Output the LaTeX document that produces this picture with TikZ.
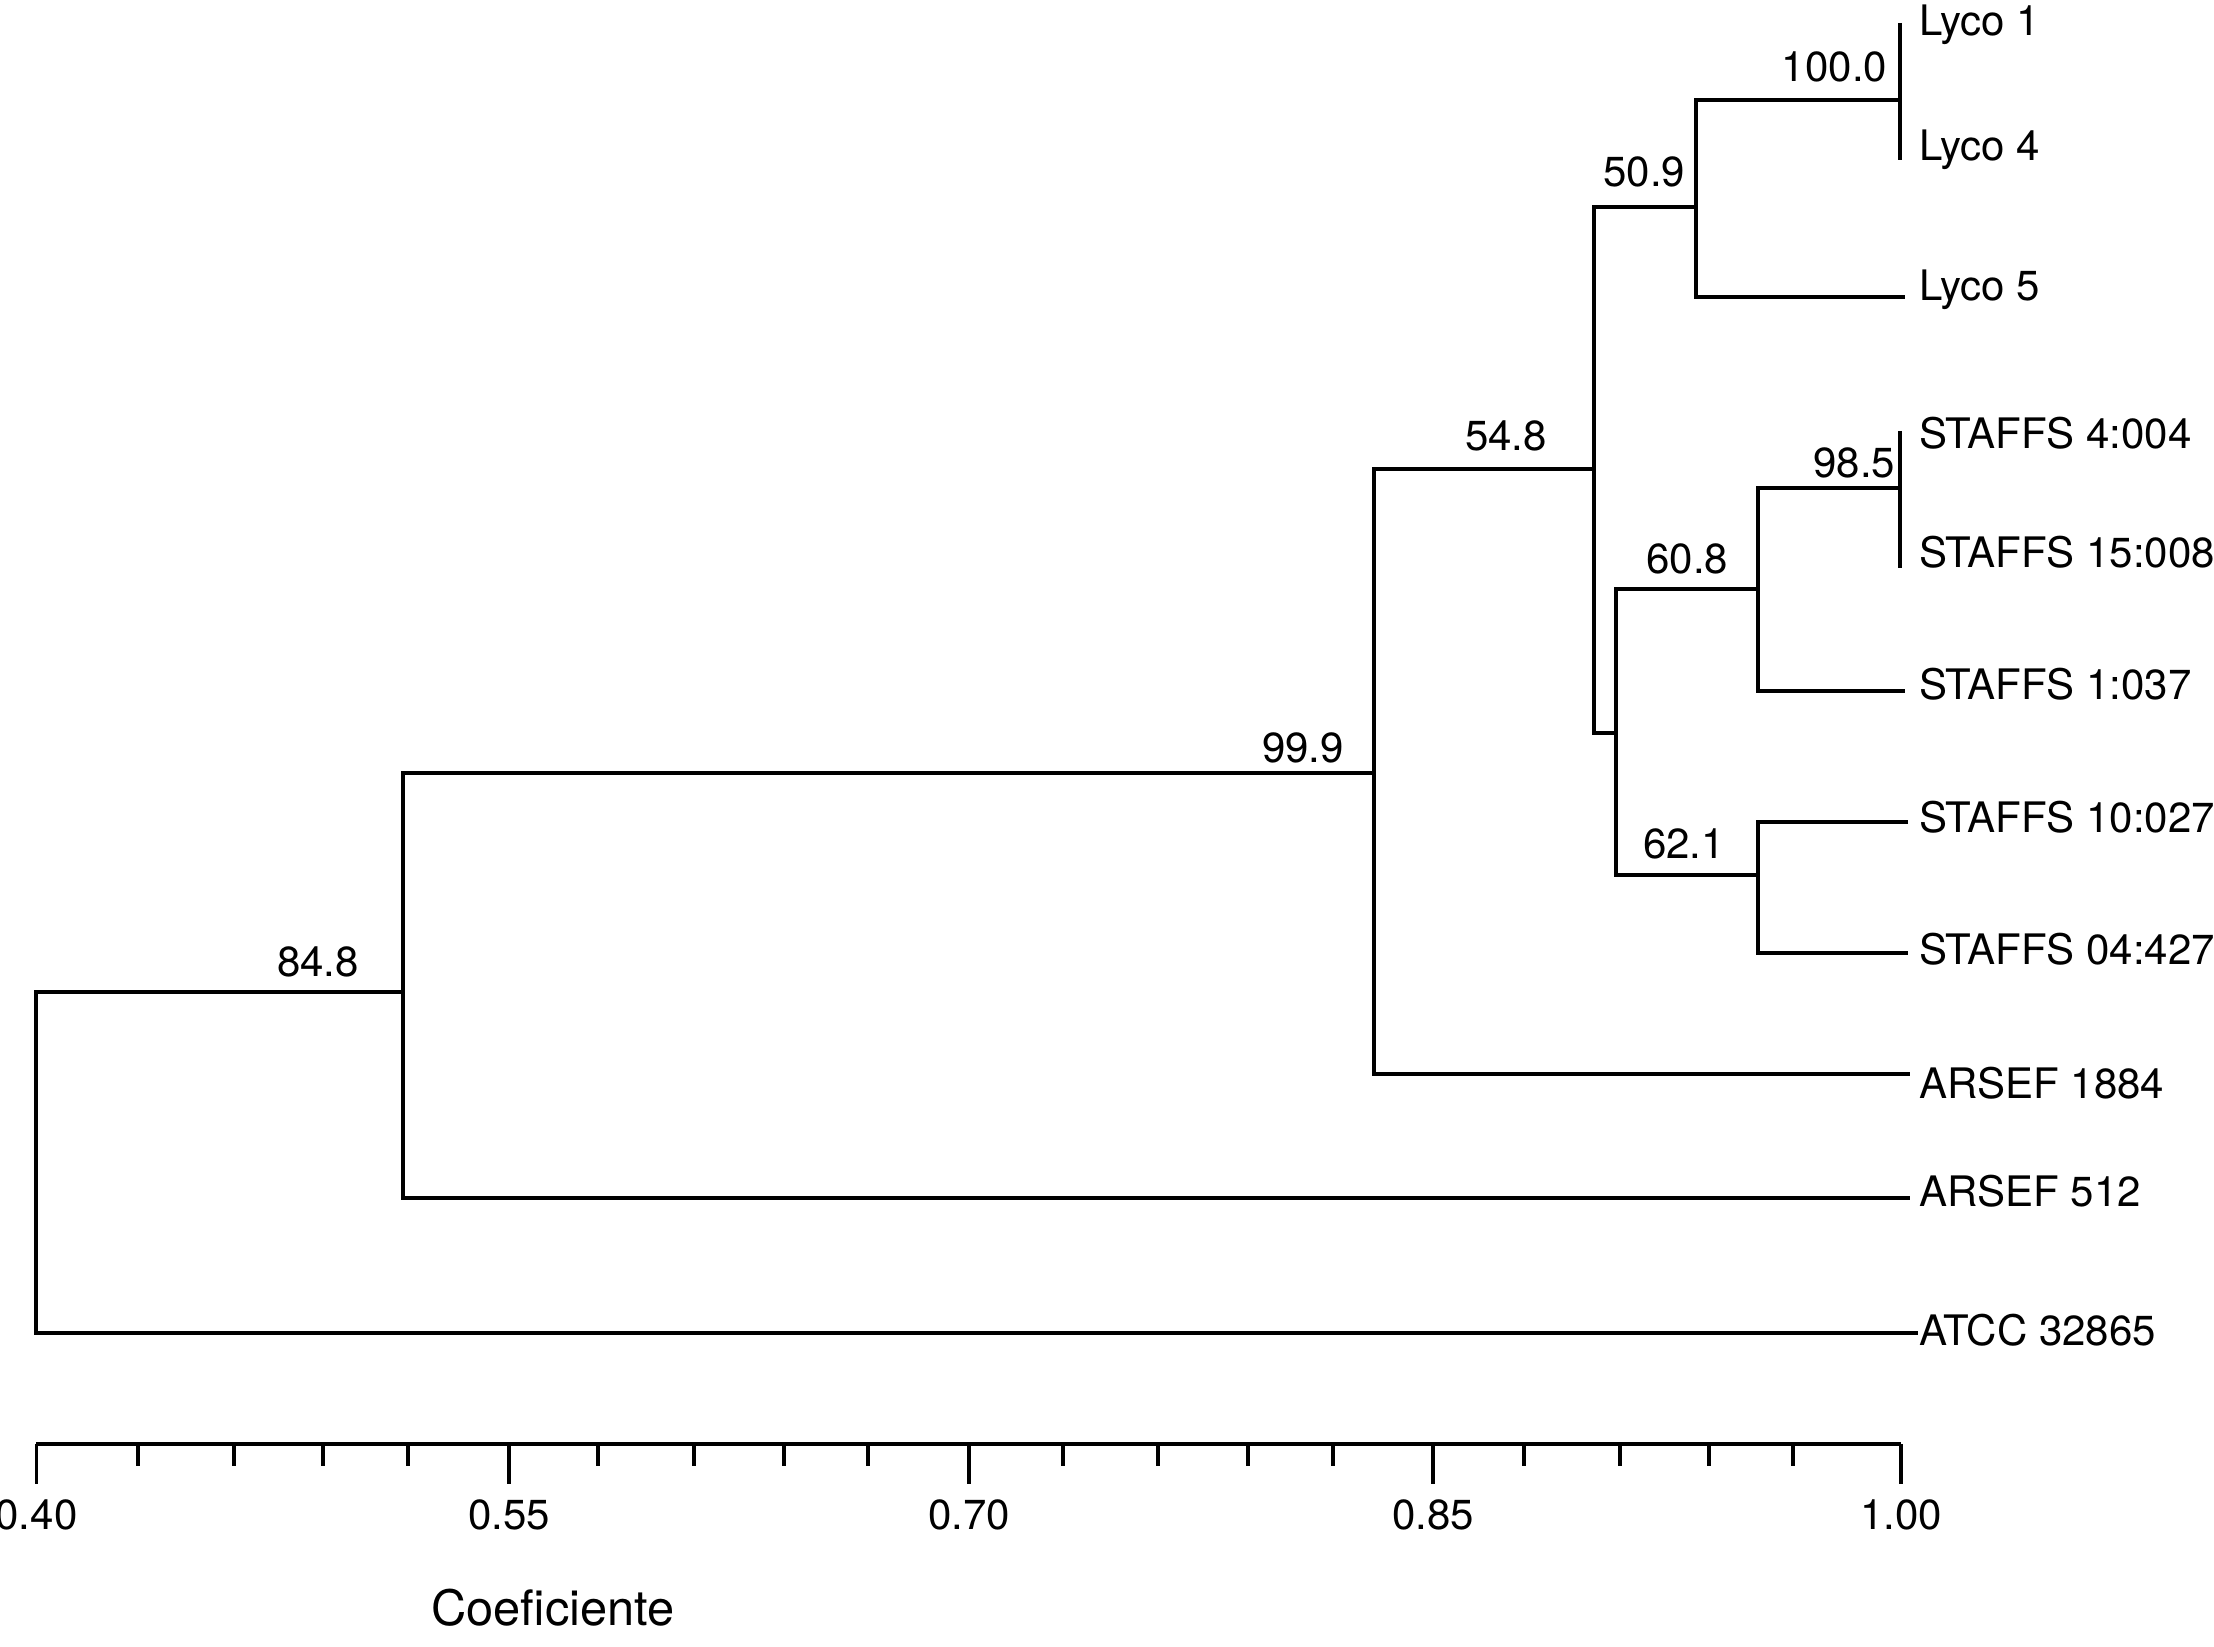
\documentclass[tikz,border=0pt]{standalone}
\usepackage{fontspec}
\setmainfont{TeX Gyre Heros}
\begin{document}
\begin{tikzpicture}[x=0.25pt,y=-0.25pt,
  every node/.style={inner sep=0pt,outer sep=0pt},
  branch/.style={line width=1.05pt,line join=miter},
  leaflab/.style={anchor=base west,font=\fontsize{10.5}{12}\selectfont},
  bootlab/.style={anchor=base east,font=\fontsize{10.5}{12}\selectfont},
  axlab/.style={anchor=base,font=\fontsize{10.5}{12}\selectfont},
  tick/.style={line width=0.9pt}]
\useasboundingbox (0,0) rectangle (2214,1647);
% leaves
\coordinate (l1) at (1900,23);
\coordinate (l4) at (1900,160);
\coordinate (l5) at (1905,297);
\coordinate (s4) at (1900,431);
\coordinate (s15) at (1900,568);
\coordinate (s1) at (1905,691);
\coordinate (s10) at (1908,822);
\coordinate (s04) at (1908,953);
\coordinate (a1884) at (1910,1074);
\coordinate (a512) at (1910,1198);
\coordinate (atcc) at (1918,1333);
% internal nodes
\coordinate (F) at (1900,100);
\coordinate (D) at (1696,207);
\coordinate (I) at (1900,488);
\coordinate (G) at (1758,589);
\coordinate (H) at (1758,875);
\coordinate (E) at (1616,733);
\coordinate (C) at (1594,469);
\coordinate (B) at (1374,773);
\coordinate (A) at (403,992);
\coordinate (R) at (36,1100);
% branches
\draw[branch] (l1) -- (l4);
\draw[branch] (F) -| (D |- l5) -- (l5);
\draw[branch] (s4) -- (s15);
\draw[branch] (I) -| (G |- s1) -- (s1);
\draw[branch] (s10) -| (H |- s04) -- (s04);
\draw[branch] (G) -| (E |- H) -- (H);
\draw[branch] (D) -| (C |- E) -- (E);
\draw[branch] (C) -| (B |- a1884) -- (a1884);
\draw[branch] (B) -| (A |- a512) -- (a512);
\draw[branch] (A) -| (R |- atcc) -- (atcc);
% leaf labels
\node[leaflab] (tl1) at (1919,36) {Lyco 1};
\node[leaflab] (tl4) at (1919,161) {Lyco 4};
\node[leaflab] (tl5) at (1919,301) {Lyco 5};
\node[leaflab] (ts4) at (1919,449) {STAFFS 4:004};
\node[leaflab] (ts15) at (1919,567) {STAFFS 15:008};
\node[leaflab] (ts1) at (1919,699) {STAFFS 1:037};
\node[leaflab] (ts10) at (1919,832) {STAFFS 10:027};
\node[leaflab] (ts04) at (1919,964) {STAFFS 04:427};
\node[leaflab] (ta1884) at (1919,1098) {ARSEF 1884};
\node[leaflab] (ta512) at (1919,1206) {ARSEF 512};
\node[leaflab] (tatcc) at (1919,1345) {ATCC 32865};
% bootstrap labels
\node[bootlab] (bF) at (1887,82) {100.0};
\node[bootlab] (bD) at (1685,187) {50.9};
\node[bootlab] (bC) at (1547,451) {54.8};
\node[bootlab] (bI) at (1895,478) {98.5};
\node[bootlab] (bG) at (1728,573) {60.8};
\node[bootlab] (bH) at (1725,858) {62.1};
\node[bootlab] (bB) at (1344,762) {99.9};
\node[bootlab] (bA) at (359,976) {84.8};
% axis
\coordinate (ax0) at (36,1444);
\coordinate (ax1) at (1901,1444);
\draw[branch] (ax0) -- (ax1);
\foreach \t in {138,234,323,408,598,694,784,868,1063,1158,1248,1333,1524,1620,1709,1793}
  \draw[tick] (\t,1444) -- (\t,1466);
\foreach \t/\v in {36.5/0.40,509/0.55,969/0.70,1433/0.85,1901/1.00}{
  \draw[tick] (\t,1444) -- (\t,1484);
  \node[axlab] at (\t,1529) {\v};
}
\node[anchor=base,font=\fontsize{12.2}{14}\selectfont] (xlab) at (553,1625) {Coeficiente};
\end{tikzpicture}
\end{document}
